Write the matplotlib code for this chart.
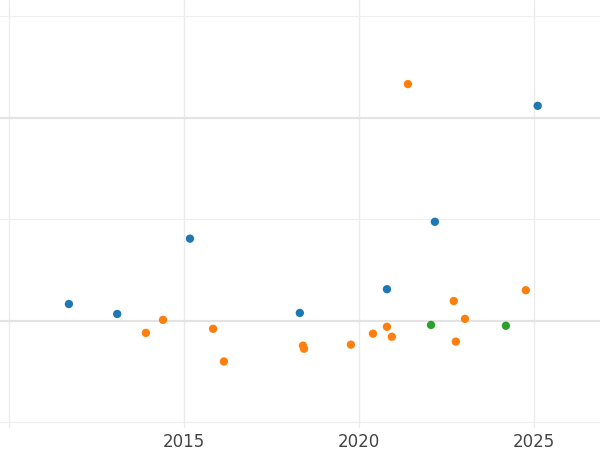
import matplotlib
matplotlib.use("Agg")
import matplotlib.pyplot as plt

blue_x = [2011.71, 2013.09, 2015.17, 2018.31, 2020.8, 2022.17, 2025.11]
blue_y = [0.083, 0.034, 0.405, 0.039, 0.156, 0.488, 1.059]
orange_x = [2013.91, 2014.4, 2015.83, 2016.14, 2018.4, 2018.43, 2019.77, 2020.4, 2020.8, 2020.94, 2021.4, 2022.71, 2022.77, 2023.03, 2024.77]
orange_y = [-0.059, 0.005, -0.039, -0.2, -0.122, -0.137, -0.117, -0.063, -0.029, -0.078, 1.166, 0.098, -0.102, 0.01, 0.151]
green_x = [2022.06, 2024.2]
green_y = [-0.02, -0.024]
xticks = [2015, 2020, 2025]

fig = plt.figure(figsize=(6, 4.5), dpi=100)
ax = fig.add_axes([0, 0.05, 1, 0.95])
ax.set_xlim(2009.74, 2026.89)
ax.set_ylim(-0.525, 1.58)
for v in [2010, 2015, 2020, 2025]:
    ax.axvline(v, color="#ebebeb", lw=1, zorder=0)
for v in [-0.5, 0.5, 1.5]:
    ax.axhline(v, color="#eeeeee", lw=0.8, zorder=0)
for v in [0, 1]:
    ax.axhline(v, color="#e3e3e3", lw=1.5, zorder=0)
ax.scatter(blue_x, blue_y, color="#1f77b4", s=36, zorder=3, edgecolors="none")
ax.scatter(orange_x, orange_y, color="#ff7f0e", s=36, zorder=3, edgecolors="none")
ax.scatter(green_x, green_y, color="#2ca02c", s=36, zorder=3, edgecolors="none")
ax.set_xticks(xticks)
ax.set_xticklabels([str(t) for t in xticks], color="#444444", fontsize=12)
ax.set_yticks([])
ax.tick_params(axis="x", length=0, pad=4)
for s in ax.spines.values():
    s.set_visible(False)
fig.savefig("out.png", dpi=100)
